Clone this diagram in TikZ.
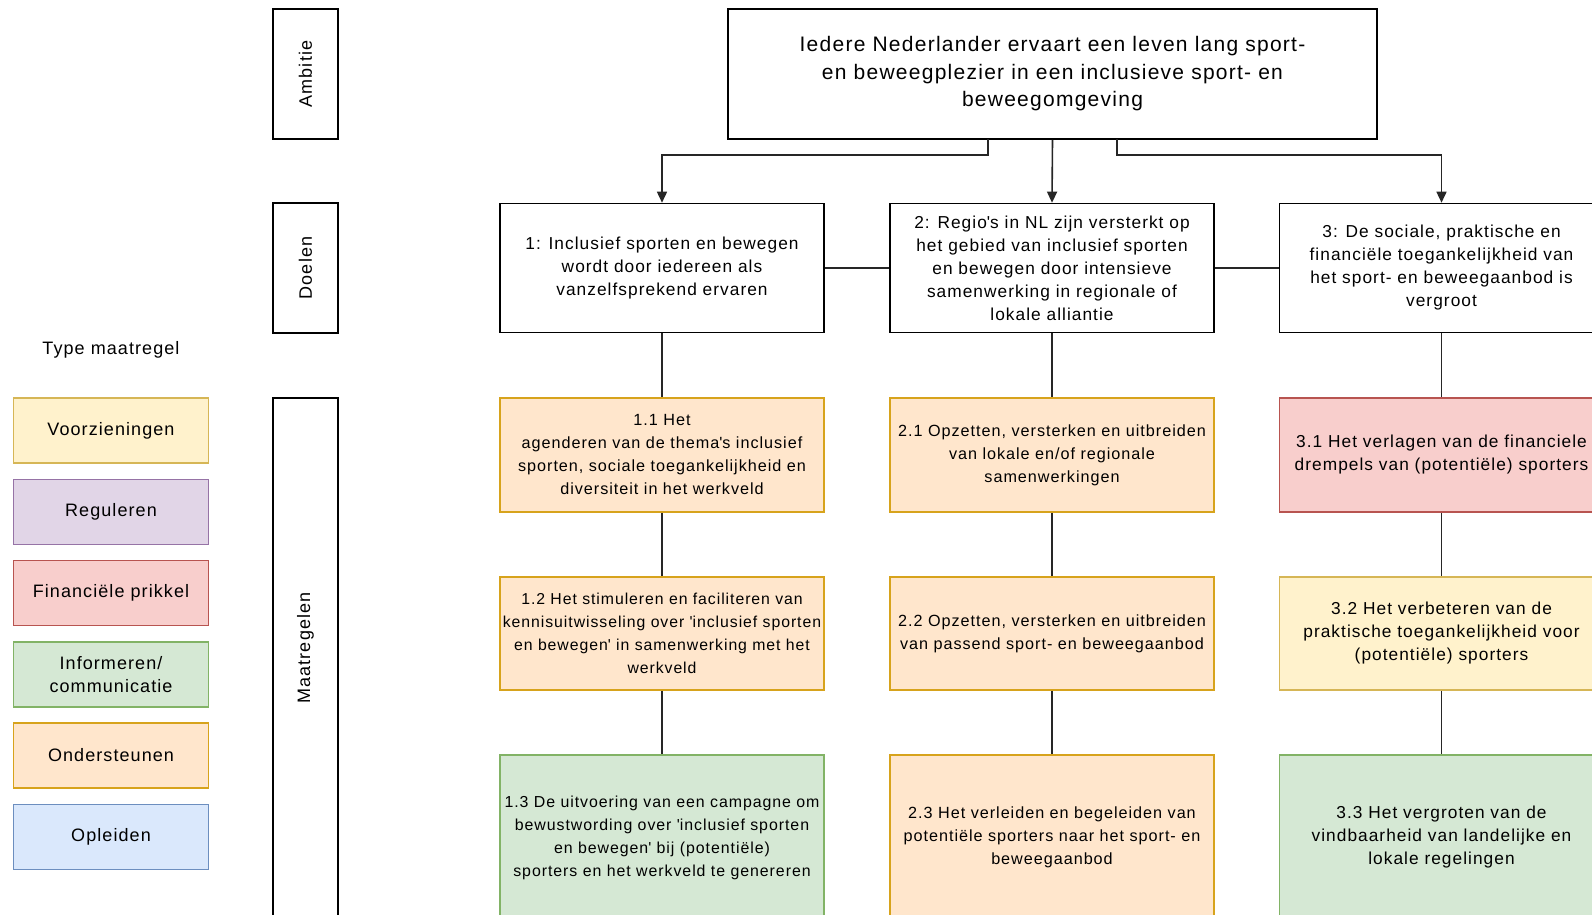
\documentclass[tikz,border=0pt]{standalone}
\usepackage{fontspec}
\setmainfont{Liberation Sans}[LetterSpace=6]
\usetikzlibrary{arrows.meta}
\definecolor{yelF}{HTML}{FFF2CC}\definecolor{yelD}{HTML}{D6B656}
\definecolor{purF}{HTML}{E1D5E7}\definecolor{purD}{HTML}{9673A6}
\definecolor{redF}{HTML}{F8CECC}\definecolor{redD}{HTML}{B85450}
\definecolor{grnF}{HTML}{D5E8D4}\definecolor{grnD}{HTML}{82B366}
\definecolor{orgF}{HTML}{FFE6CC}\definecolor{orgD}{HTML}{D7A31C}
\definecolor{bluF}{HTML}{DAE8FC}\definecolor{bluD}{HTML}{6C8EBF}
\newcommand{\q}{\textquotesingle}
\begin{document}
\begin{tikzpicture}[x=1pt,y=-1pt,
  blk/.style={draw=black, line width=1.6pt, fill=white, align=center, inner sep=0pt},
  lab/.style={blk, minimum width=65pt},
  goal/.style={blk, minimum width=324pt, minimum height=129pt, font=\fontsize{17.3}{23}\selectfont},
  mt/.style={draw=#1D, fill=#1F, line width=1.5pt, align=center, inner sep=0pt,
     minimum width=324pt, font=\fontsize{16.2}{23}\selectfont},
  leg/.style={draw=#1D, fill=#1F, line width=1.5pt, align=center, inner sep=0pt,
     minimum width=195pt, minimum height=65pt, font=\fontsize{18}{23}\selectfont},
  vlab/.style={rotate=90, font=\fontsize{18}{20}\selectfont},
  conn/.style={line width=1.6pt, draw=black!85},
  arr/.style={conn, -{Triangle[length=11pt,width=10pt]}}]
\useasboundingbox (0,0) rectangle (1592,915);
\clip (0,0) rectangle (1592,915);
\fill[white] (0,0) rectangle (1592,915);

% row labels
\node[lab, minimum height=130pt] (amb) at (305.5,74) {};
\node[vlab] (ambt) at (amb.center) {Ambitie};
\node[lab, minimum height=130pt] (doel) at (305.5,268) {};
\node[vlab] (doelt) at (doel.center) {Doelen};
\node[lab, minimum height=530pt] (maat) at (305.5,663) {};
\node[vlab] (maatt) at (305.5,648) {Maatregelen};

% top
\node[blk, minimum width=649pt, minimum height=130pt, font=\fontsize{21}{27.5}\selectfont] (top) at (1052.5,74)
  {Iedere Nederlander ervaart een leven lang sport-\\en beweegplezier in een inclusieve sport- en\\beweegomgeving};

% goals
\node[goal] (g1) at (662,268) {1: Inclusief sporten en bewegen\\wordt door iedereen als\\vanzelfsprekend ervaren};
\node[goal] (g2) at (1052,268) {2: Regio\q s in NL zijn versterkt op\\het gebied van inclusief sporten\\en bewegen door intensieve\\samenwerking in regionale of\\lokale alliantie};
\node[goal] (g3) at (1441.5,268) {3: De sociale, praktische en\\financiële toegankelijkheid van\\het sport- en beweegaanbod is\\vergroot};

% measures
\node[mt=org, minimum height=114pt] (m11) at (662,455) {1.1 Het\\agenderen van de thema\q s inclusief\\sporten, sociale toegankelijkheid en\\diversiteit in het werkveld};
\node[mt=org, minimum height=113pt, font=\fontsize{15.8}{23}\selectfont] (m12) at (662,633.5) {1.2 Het stimuleren en faciliteren van\\kennisuitwisseling over \q inclusief sporten\\en bewegen\q{} in samenwerking met het\\werkveld};
\node[mt=grn, minimum height=165pt, font=\fontsize{15.9}{23}\selectfont] (m13) at (662,837.5) {1.3 De uitvoering van een campagne om\\bewustwording over \q inclusief sporten\\en bewegen\q{} bij (potentiële)\\sporters en het werkveld te genereren};

\node[mt=org, minimum height=114pt] (m21) at (1052,455) {2.1 Opzetten, versterken en uitbreiden\\van lokale en/of regionale\\samenwerkingen};
\node[mt=org, minimum height=113pt] (m22) at (1052,633.5) {2.2 Opzetten, versterken en uitbreiden\\van passend sport- en beweegaanbod};
\node[mt=org, minimum height=165pt] (m23) at (1052,837.5) {2.3 Het verleiden en begeleiden van\\potentiële sporters naar het sport- en\\beweegaanbod};

\node[mt=red, minimum height=114pt, font=\fontsize{17.3}{23}\selectfont] (m31) at (1441.5,455) {3.1 Het verlagen van de financiele\\drempels van (potentiële) sporters};
\node[mt=yel, minimum height=113pt, font=\fontsize{17.3}{23}\selectfont] (m32) at (1441.5,633.5) {3.2 Het verbeteren van de\\praktische toegankelijkheid voor\\(potentiële) sporters};
\node[mt=grn, minimum height=165pt, font=\fontsize{17.3}{23}\selectfont] (m33) at (1441.5,837.5) {3.3 Het vergroten van de\\vindbaarheid van landelijke en\\lokale regelingen};

% legend
\node[font=\fontsize{18}{20}\selectfont] (type) at (111,350) {Type maatregel};
\node[leg=yel] (l1) at (111,430.5) {Voorzieningen};
\node[leg=pur] (l2) at (111,512) {Reguleren};
\node[leg=red] (l3) at (111,593) {Financiële prikkel};
\node[leg=grn] (l4) at (111,674.5) {Informeren/\\communicatie};
\node[leg=org] (l5) at (111,755.5) {Ondersteunen};
\node[leg=blu] (l6) at (111,837) {Opleiden};

% connectors
\coordinate (tl) at (988,139);
\coordinate (tr) at (1117,139);
\draw[arr] (tl) -- (988,155) -| (g1.north);
\draw[arr] (top.south) -- (g2.north);
\draw[arr] (tr) -- (1117,155) -| (g3.north);
\draw[conn] (g1.east) -- (g2.west);
\draw[conn] (g2.east) -- (g3.west);
\foreach \c in {1,2,3}{
  \draw[conn] (g\c.south) -- (m\c1.north);
  \draw[conn] (m\c1.south) -- (m\c2.north);
  \draw[conn] (m\c2.south) -- (m\c3.north);
}
\end{tikzpicture}
\end{document}
